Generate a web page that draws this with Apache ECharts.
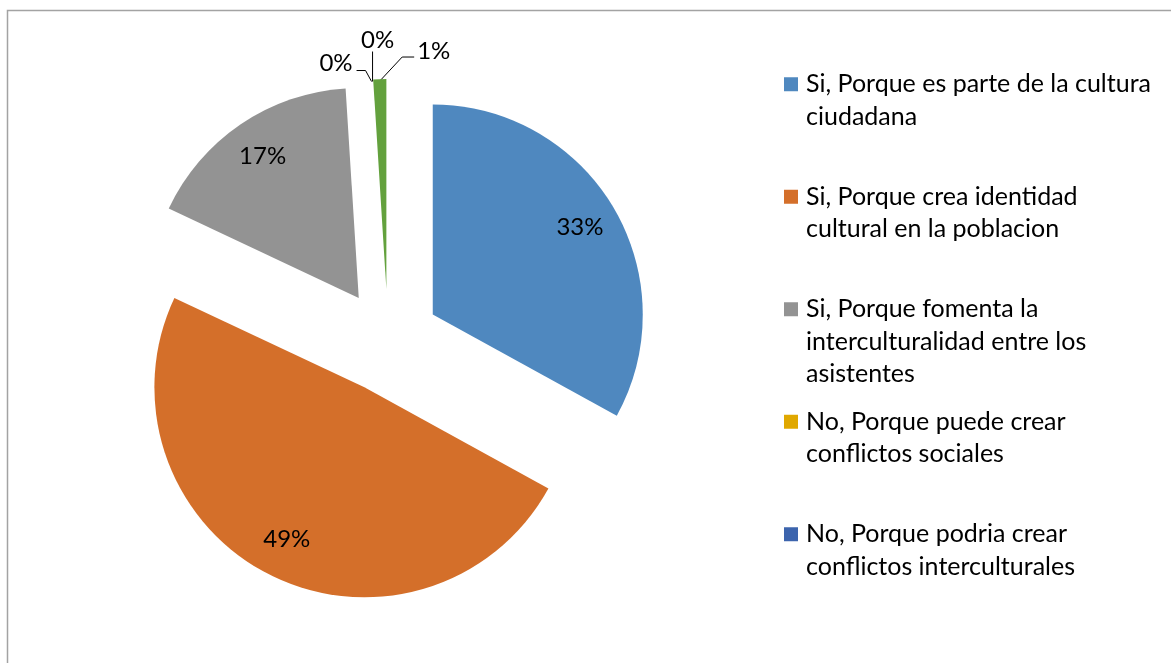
<!DOCTYPE html>
<html>
<head>
<meta charset="utf-8">
<script src="https://cdn.jsdelivr.net/npm/echarts@6/dist/echarts.min.js"></script>
<style>
html, body { margin: 0; padding: 0; background: #fff; }
#main { width: 1171px; height: 663px; }
</style>
</head>
<body>
<div id="main"></div>
<script>
// respuestas de la encuesta (porcentajes)
var categories = [
    'Si, Porque es parte de la cultura ciudadana',
    'Si, Porque crea identidad cultural en la poblacion',
    'Si, Porque fomenta la interculturalidad entre los asistentes',
    'No, Porque puede crear conflictos sociales',
    'No, Porque podria crear conflictos interculturales',
    'Otros'
];
var values = [33, 49, 17, 0, 0, 1];
var colors = ['#4f88bf', '#d46f2a', '#939393', '#e0a800', '#3c64ad', '#63a13d'];
// texto de la leyenda cortado en lineas, como en el original
var legendWrap = [
    ['Si, Porque es parte de la cultura', 'ciudadana'],
    ['Si, Porque crea identidad', 'cultural en la poblacion'],
    ['Si, Porque fomenta la', 'interculturalidad entre los', 'asistentes'],
    ['No, Porque puede crear', 'conflictos sociales'],
    ['No, Porque podria crear', 'conflictos interculturales']
];
var insideLabel = [true, true, true, false, false, false];

var FONT = 'Lato';
var CENTER = [388, 341];
var RADIUS = 210;
var EXPLODE = 52;
var myChart = echarts.init(document.getElementById('main'));

// desplazamiento de la porcion separada (igual que selectedOffset)
function explodeShift(i) {
    var total = 0, before = 0;
    values.forEach(function (v, k) { total += v; if (k < i) before += v; });
    var mid = (before + values[i] / 2) / total * 2 * Math.PI;
    return [EXPLODE * Math.sin(mid), -EXPLODE * Math.cos(mid)];
}

// etiquetas pequenas arriba: una a la izquierda, una encima, una a la derecha
function smallLabelLayout(params) {
    var r = params.rect;
    var s = explodeShift(params.dataIndex);
    var x = r.x + s[0], y = r.y + s[1];
    if (params.dataIndex === 3) {
        return {
            x: x - 19, y: y - 16, align: 'right', verticalAlign: 'middle',
            labelLinePoints: [[x, y + 2], [x - 6, y - 9], [x - 15, y - 9]]
        };
    }
    if (params.dataIndex === 4) {
        return {
            x: x + 6, y: y - 39, align: 'center', verticalAlign: 'middle',
            labelLinePoints: [[x + 1, y + 2], [x + 1, y - 28]]
        };
    }
    if (params.dataIndex === 5) {
        var mx = x + r.width / 2;
        return {
            x: x + 44, y: y - 28, align: 'left', verticalAlign: 'middle',
            labelLinePoints: [[mx, y + 2], [x + 29, y - 22], [x + 41, y - 22]]
        };
    }
    return {};
}

var labelFont = { fontFamily: FONT, fontSize: 24, color: '#000' };

var option = {
    animation: false,
    color: colors,
    graphic: [{
        type: 'rect',
        silent: true,
        shape: { x: 7.5, y: 10.5, width: 1300, height: 800 },
        style: { fill: 'none', stroke: '#a3a3a3', lineWidth: 1.5 }
    }],
    legend: {
        orient: 'vertical',
        left: 784,
        top: 3,
        padding: 0,
        icon: 'rect',
        itemWidth: 14,
        itemHeight: 14,
        itemGap: -50,
        selectedMode: false,
        data: categories.slice(0, 5),
        formatter: function (name) {
            // primera linea centrada con el cuadrito: todo en bloques de 5 lineas
            var lines = ['', ''].concat(legendWrap[categories.indexOf(name)]);
            while (lines.length < 5) lines.push('');
            return lines.join('\n');
        },
        textStyle: {
            fontFamily: FONT,
            fontSize: 25,
            lineHeight: 32.5,
            color: '#000',
            padding: [0, 0, 0, 3]
        }
    },
    series: [
        {
            // la torta separada
            type: 'pie',
            center: CENTER,
            radius: RADIUS,
            startAngle: 90,
            selectedMode: 'multiple',
            selectedOffset: EXPLODE,
            itemStyle: { borderWidth: 0 },
            emphasis: { disabled: true },
            label: { show: false },
            labelLine: { show: false },
            data: categories.map(function (n, i) {
                return {
                    name: n,
                    value: values[i],
                    selected: true,
                    itemStyle: { color: colors[i] }
                };
            })
        },
        {
            // serie invisible solo para poner las etiquetas interiores a 0.8 del radio
            type: 'pie',
            center: CENTER,
            radius: [0, RADIUS * 1.6],
            startAngle: 90,
            silent: true,
            legendHoverLink: false,
            selectedMode: 'multiple',
            selectedOffset: EXPLODE,
            percentPrecision: 0,
            itemStyle: { color: 'rgba(0,0,0,0)', borderWidth: 0 },
            emphasis: { disabled: true },
            label: echarts.util.extend({ position: 'inside', formatter: '{d}%' }, labelFont),
            labelLine: { show: false },
            data: categories.map(function (n, i) {
                return { name: n, value: values[i], selected: true, label: { show: insideLabel[i] } };
            })
        },
        {
            // serie invisible para las etiquetas de 0% y 1% con sus lineas
            type: 'pie',
            center: CENTER,
            radius: RADIUS,
            startAngle: 90,
            silent: true,
            legendHoverLink: false,
            selectedMode: false,
            percentPrecision: 0,
            avoidLabelOverlap: false,
            itemStyle: { color: 'rgba(0,0,0,0)', borderWidth: 0 },
            emphasis: { disabled: true },
            label: echarts.util.extend({ position: 'outside', formatter: '{d}%' }, labelFont),
            labelLine: { lineStyle: { color: '#000', width: 1 } },
            labelLayout: smallLabelLayout,
            data: categories.map(function (n, i) {
                return {
                    name: n,
                    value: values[i],
                    label: { show: !insideLabel[i] },
                    labelLine: { show: !insideLabel[i] }
                };
            })
        }
    ]
};
myChart.setOption(option);
</script>
</body>
</html>
